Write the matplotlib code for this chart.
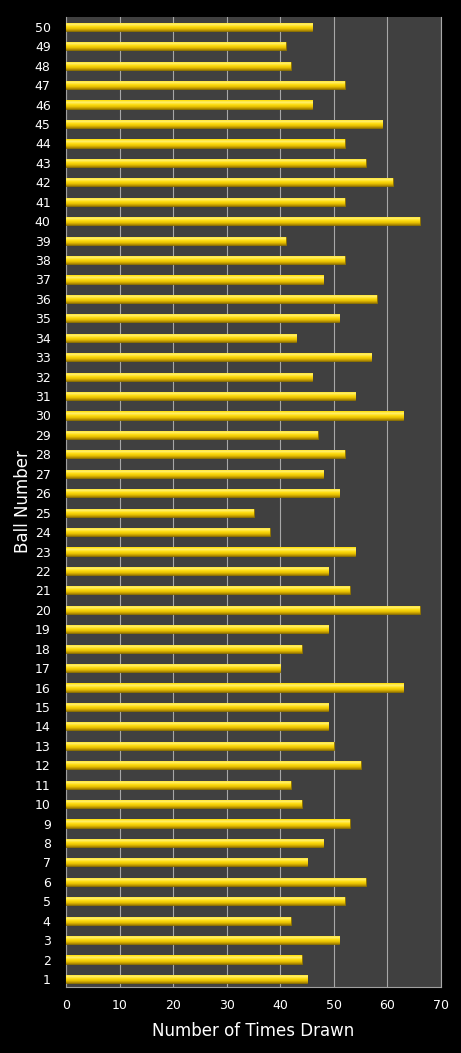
import matplotlib.pyplot as plt
import matplotlib.colors as mcolors
import numpy as np

# Ball numbers and how often each was drawn
balls = list(range(1, 51))
times_drawn = [45, 44, 51, 42, 52, 56, 45, 48, 53, 44,
               42, 55, 50, 49, 49, 63, 40, 44, 49, 66,
               53, 49, 54, 38, 35, 51, 48, 52, 47, 63,
               54, 46, 57, 43, 51, 58, 48, 52, 41, 66,
               52, 61, 56, 52, 59, 46, 52, 42, 41, 46]
x_ticks = [0, 10, 20, 30, 40, 50, 60, 70]

plt.rcParams['font.family'] = ['DejaVu Sans']

fig = plt.figure(figsize=(4.61, 10.53), dpi=100, facecolor='black')
ax = fig.add_axes([0.1432, 0.0627, 0.8134, 0.9214])
ax.set_facecolor('#404040')

bar_h = 0.42
bars = ax.barh(balls, times_drawn, height=bar_h, color='#F2CF00',
               edgecolor='#8A6E00', linewidth=0.6, zorder=3)

# vertical shading on each bar (light top, darker bottom)
cmap = mcolors.LinearSegmentedColormap.from_list(
    'gold', ['#A88200', '#E6C000', '#FFDD10', '#FFF070', '#FFDE00'])
grad = np.linspace(0, 1, 64).reshape(-1, 1)
for b in bars:
    x0, y0 = b.get_x(), b.get_y()
    w, h = b.get_width(), b.get_height()
    im = ax.imshow(grad, cmap=cmap, aspect='auto', origin='lower',
                   extent=[x0, x0 + w, y0, y0 + h], zorder=3.5)
    im.set_clip_path(b)

ax.set_xlim(0, 70)
ax.set_ylim(0.59, 50.52)
ax.set_xticks(x_ticks)
ax.set_yticks(balls)
ax.set_yticklabels([str(b) for b in balls])
ax.tick_params(axis='both', length=0, colors='white', labelsize=9)
ax.tick_params(axis='x', pad=9)
ax.tick_params(axis='y', pad=11)

ax.grid(axis='x', color='#a8a8a8', linewidth=0.8, zorder=0)
ax.set_axisbelow(True)
ax.spines['top'].set_visible(False)
ax.spines['right'].set_color('#a8a8a8')
ax.spines['right'].set_linewidth(0.8)
for side in ['left', 'bottom']:
    ax.spines[side].set_color('#a0a0a0')
    ax.spines[side].set_linewidth(0.8)

ax.set_xlabel('Number of Times Drawn', color='white', fontsize=12, labelpad=7)
ax.set_ylabel('Ball Number', color='white', fontsize=12, labelpad=2)

fig.savefig('out.png', dpi=100, facecolor='black')
